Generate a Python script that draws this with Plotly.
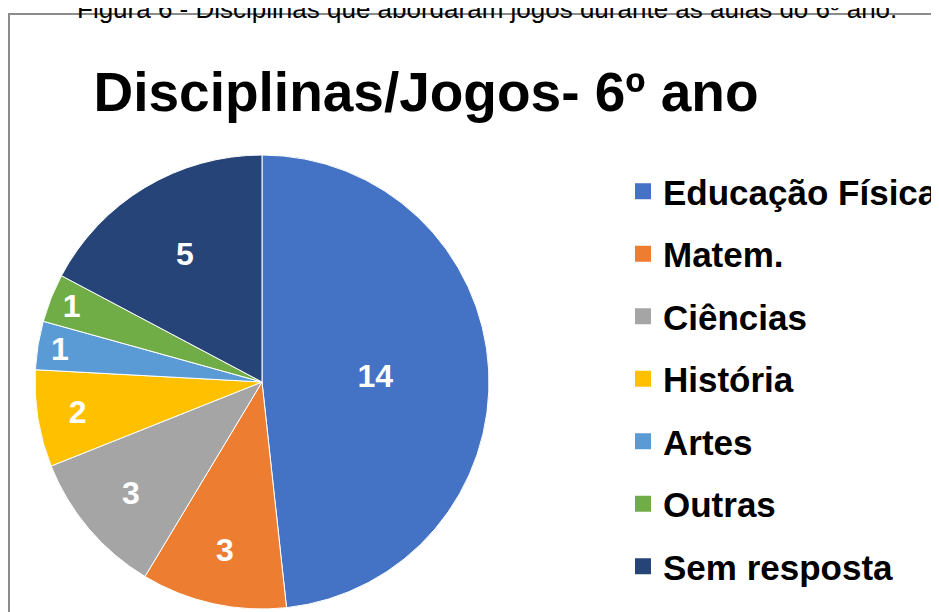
import plotly.graph_objects as go

# dados da figura
disciplinas = ['Educação Física', 'Matem.', 'Ciências', 'História', 'Artes', 'Outras', 'Sem resposta']
respostas = [14, 3, 3, 2, 1, 1, 5]
cores = ['#4472C4', '#ED7D31', '#A5A5A5', '#FFC000', '#5B9BD5', '#70AD47', '#264478']

titulo = 'Disciplinas/Jogos- 6º ano'
legenda_fig = 'Figura 6 - Disciplinas que abordaram jogos durante as aulas do 6º ano.'

W, H = 939, 612
fonte = 'Liberation Sans, Arial, sans-serif'
d = 8  # a página desloca a figura 8px (margem do body)

fig = go.Figure()

fig.add_trace(go.Pie(labels=disciplinas, values=respostas, sort=False, direction='clockwise', rotation=0,
                     marker=dict(colors=cores, line=dict(color='white', width=1)),
                     textinfo='value', textposition='inside', insidetextorientation='horizontal',
                     textfont=dict(family=fonte, size=32, color='white', weight='bold'),
                     domain=dict(x=[(35 - d) / W, (489 - d) / W], y=[1 - (609 - d) / H, 1 - (155 - d) / H]),
                     showlegend=False, hoverinfo='label+value'))

# entradas da legenda (quadrados), um grupo por item para espaçar
for nome, cor in zip(disciplinas, cores):
    fig.add_trace(go.Scatter(x=[None], y=[None], mode='markers', name=nome, legendgroup=nome,
                             marker=dict(symbol='square', color=cor, size=16)))

fig.update_layout(
    width=W, height=H, autosize=False,
    margin=dict(l=0, r=0, t=0, b=0, autoexpand=False),
    paper_bgcolor='white', plot_bgcolor='white',
    xaxis=dict(visible=False), yaxis=dict(visible=False),
    uniformtext=dict(minsize=32, mode='show'),
    title=dict(text=titulo, x=(426 - d) / W, xanchor='center', y=1 - (92 - d) / H, yanchor='middle', yref='container',
               font=dict(family=fonte, size=55, color='black', weight='bold')),
    legend=dict(x=(626 - 11) / W, xanchor='left', y=1 - 154 / H, yanchor='top', tracegroupgap=14,
                font=dict(family=fonte, size=35, color='black', weight='bold'),
                bgcolor='rgba(0,0,0,0)', itemclick=False),
    annotations=[dict(text=legenda_fig, xref='paper', yref='paper', x=(487 - d) / W, y=1 - 1 / H,
                      xanchor='center', yanchor='middle', showarrow=False,
                      font=dict(family=fonte, size=26, color='black'))],
    shapes=[dict(type='rect', xref='paper', yref='paper', x0=1 / W, x1=1.02, y0=-0.02, y1=1 - (14 - d) / H,
                 line=dict(color='#8c8c8c', width=2), layer='below')],
)

fig.write_html('out.html')
